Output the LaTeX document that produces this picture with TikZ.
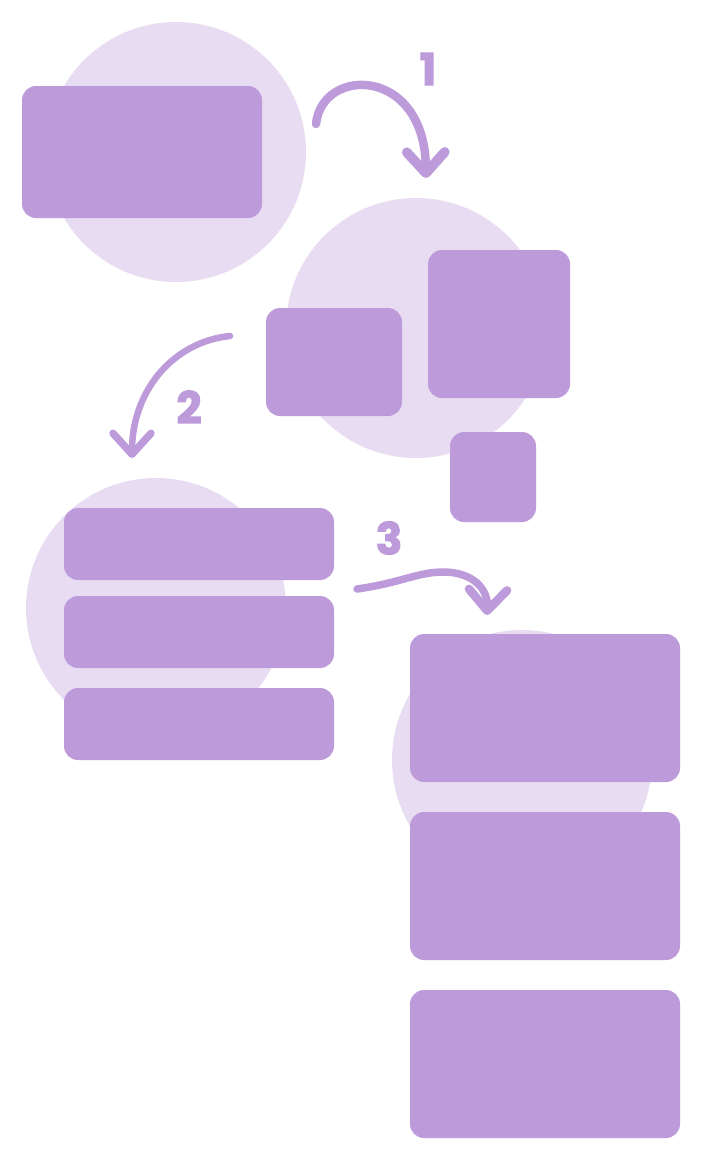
\documentclass[tikz,border=0pt]{standalone}
\usepackage{fontspec}
\newfontfamily\numfont{Poppins}[BoldFeatures={FakeBold=2.5}]
\usepackage{tikz}
\usetikzlibrary{arrows.meta}

\definecolor{lilac}{HTML}{BD9BDA}
\definecolor{lilaclight}{HTML}{E8DCF2}

\begin{document}
\begin{tikzpicture}[
	x=1pt, y=-1pt,
	blob/.style={circle, fill=lilaclight, minimum size=260pt, inner sep=0pt},
	card/.style={rectangle, fill=lilac, rounded corners=14pt, inner sep=0pt},
	arrow/.style={lilac, line width=8.5pt, line cap=round, -{Straight Barb[length=21pt, width=38pt, line width=0pt 1.15, round]}},
	stepnum/.style={text=lilac, font=\numfont\bfseries\fontsize{44}{44}\selectfont, inner sep=0pt}
	]
	\useasboundingbox (0,0) rectangle (702,1160);
	
	% === BACKGROUND CIRCLES ===
	\node[blob] (blobA) at (176, 152) {};
	\node[blob] (blobB) at (416, 328) {};
	\node[blob] (blobC) at (156, 608) {};
	\node[blob] (blobD) at (522, 760) {};
	
	% === STAGE 1: ONE CARD ===
	\node[card, minimum width=240pt, minimum height=132pt] (one) at (142, 152) {};
	
	% === STAGE 2: SCATTERED CARDS ===
	\node[card, minimum width=136pt, minimum height=108pt] (partA) at (334, 362) {};
	\node[card, minimum width=142pt, minimum height=148pt] (partB) at (499, 324) {};
	\node[card, minimum width=86pt, minimum height=90pt] (partC) at (493, 477) {};
	
	% === STAGE 3: LIST OF BARS ===
	\foreach \i/\y in {1/544, 2/632, 3/724} {
		\node[card, minimum width=270pt, minimum height=72pt] (bar\i) at (199, \y) {};
	}
	
	% === STAGE 4: LARGE BLOCKS ===
	\foreach \i/\y in {1/708, 2/886, 3/1064} {
		\node[card, minimum width=270pt, minimum height=148pt] (block\i) at (545, \y) {};
	}
	
	% === STEP ARROWS ===
	\coordinate (startA) at (316, 124);
	\coordinate (endA) at (426, 178);
	\coordinate (startB) at (230, 336);
	\coordinate (endB) at (132, 458);
	\coordinate (startC) at (357, 589);
	\coordinate (endC) at (487, 615);
	
	\draw[arrow] (startA) .. controls (322, 66) and (425, 66) .. (endA);
	\draw[arrow, line width=6.5pt] (startB) .. controls (172, 342) and (132, 392) .. (endB);
	\draw[arrow, line width=7.5pt] (startC) .. controls (400, 583) and (418, 572) .. (443, 572)
	.. controls (474, 572) and (488, 590) .. (endC);
	
	% === STEP NUMBERS ===
	\node[stepnum] (numA) at (428, 69) {1};
	\node[stepnum] (numB) at (189, 407) {2};
	\node[stepnum] (numC) at (389, 538) {3};
	
\end{tikzpicture}
\end{document}
